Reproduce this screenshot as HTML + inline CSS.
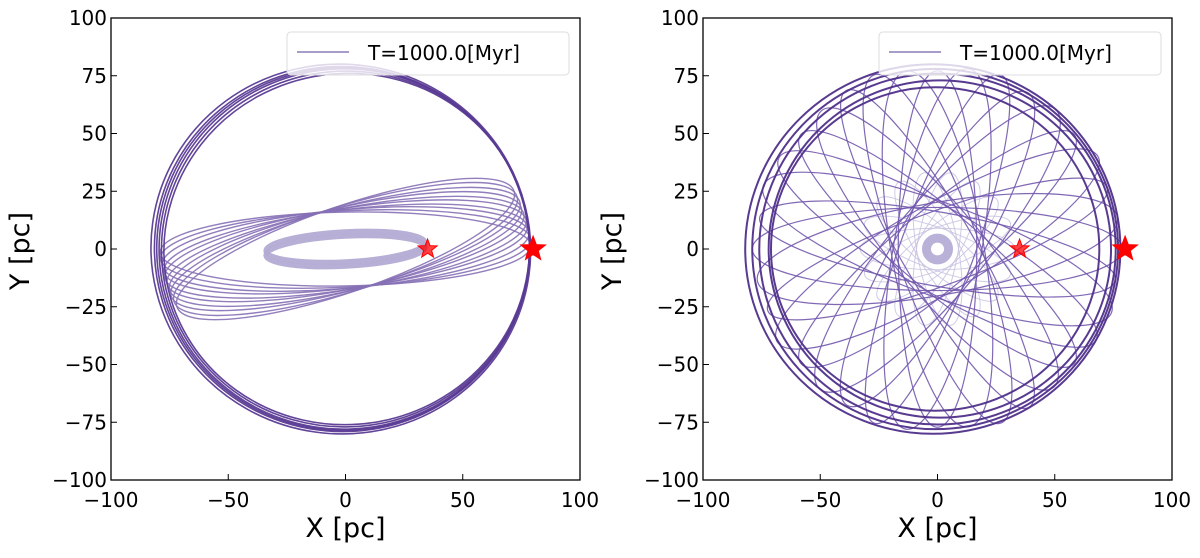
<!DOCTYPE html>
<html><head><meta charset="utf-8"><style>
body{margin:0;background:#fff;width:1200px;height:553px;overflow:hidden}
svg text{font-family:"DejaVu Sans","Liberation Sans",sans-serif;fill:#000}
</style></head><body>
<svg id="fig" width="1200" height="553" xmlns="http://www.w3.org/2000/svg"></svg>
<script>
const ticks=[-100,-50,0,50,100];
const tickLabels=["\u2212100","\u221250","0","50","100"];
const yTicks=[-100,-75,-50,-25,0,25,50,75,100];
const yTickLabels=["\u2212100","\u221275","\u221250","\u221225","0","25","50","75","100"];
// left panel
const leftOuterRx=[81,80,79.5,79,78.5,78];
const leftOuterRy=[80,79,78.5,78,77,76];
const leftOuterCx=[-2,-1.5,-1,-0.5,0,0.5];
const leftOuterAng=[-8,-5,-2,2,5,8];
const leftTiltAngles=[1,3,5,7,9,11,13,15,17,19];
const leftTiltRx=[79,79,78.5,78,78,77.5,77,77,76.5,76];
const leftTiltRy=[16,16.5,17,17,17.5,17.5,18,18,18.5,18.5];
const leftInner={rx:34,ry:6.5};
// right panel
const rightOuterR=[80,78,76,73,70];
const rightOuterCx=[-2,-1,0,1,-1];
const rosetteAngles=[0,10,20,30,40,50,60,70,80,90,100,110,120,130,140,150,160,170];
const rosetteRx=[79,78,77,79,76,78,77,79,78,76,77,79,78,77,76,78,79,77];
const rosetteRy=[18,20,16,19,17,20,18,16,19,17,20,18,16,19,17,18,20,16];
const innerRosetteAngles=[0,20,40,60,80,100,120,140,160];
const stars=[{x:35,y:0,s:10,type:"small"},{x:80,y:0,s:13,type:"big"}];

const NS="http://www.w3.org/2000/svg";
const svg=document.getElementById('fig');
function mk(tag,attrs,parent){const e=document.createElementNS(NS,tag);for(const k in attrs)e.setAttribute(k,attrs[k]);(parent||svg).appendChild(e);return e;}
const Y0=18,Y1=480;
function panel(x0,x1,name){
  const g=mk('g',{});
  
  
  const sx=v=>x0+(v+100)/200*(x1-x0);
  const sy=v=>Y0+(100-v)/200*(Y1-Y0);
  const kx=(x1-x0)/200, ky=(Y1-Y0)/200;
  const clipId='clip'+name;
  const cp=mk('clipPath',{id:clipId},g);mk('rect',{x:x0,y:Y0,width:x1-x0,height:Y1-Y0},cp);
  const plot=mk('g',{'clip-path':'url(#'+clipId+')'},g);
  
  
  return {g,plot,sx,sy,kx,ky,x0,x1};
}
function ellipse(P,cx,cy,rx,ry,ang,stroke,w,op,name){
  const e=mk('ellipse',{cx:P.sx(cx),cy:P.sy(cy),rx:rx*P.kx,ry:ry*P.ky,transform:`rotate(${-ang} ${P.sx(cx)} ${P.sy(cy)})`,fill:'none',stroke:stroke,'stroke-width':w,'stroke-opacity':op},P.plot);
  
  
}
function star(P,s){
  const cx=P.sx(s.x),cy=P.sy(s.y);let pts=[];
  for(let i=0;i<10;i++){const r=i%2?s.s*0.42:s.s;const a=-Math.PI/2+i*Math.PI/5;pts.push((cx+r*Math.cos(a)).toFixed(1)+','+(cy+r*Math.sin(a)).toFixed(1));}
  const p=mk('polygon',{points:pts.join(' '),fill:s.type==='big'?'#ff0000':'rgba(255,0,0,0.75)',stroke:'#ff0000','stroke-width':1},P.g);
  
  
}
function axes(P){
  const g=P.g;
  const fr=mk('rect',{x:P.x0,y:Y0,width:P.x1-P.x0,height:Y1-Y0,fill:'none',stroke:'#000','stroke-width':1.3},g);
  
  
  ticks.forEach((t,i)=>{const x=P.sx(t);mk('line',{x1:x,x2:x,y1:Y1,y2:Y1-6,stroke:'#000','stroke-width':1},g);
    const tx=mk('text',{x:x,y:Y1+27,'font-size':20,'text-anchor':'middle'},g);tx.textContent=tickLabels[i];
    
    });
  yTicks.forEach((t,i)=>{const y=P.sy(t);mk('line',{x1:P.x0,x2:P.x0+6,y1:y,y2:y,stroke:'#000','stroke-width':1},g);
    const tx=mk('text',{x:P.x0-4,y:y+7,'font-size':20,'text-anchor':'end'},g);tx.textContent=yTickLabels[i];
    
    });
  const xt=mk('text',{x:(P.x0+P.x1)/2,y:537,'font-size':27,'text-anchor':'middle'},g);xt.textContent='X [pc]';
  
  
  const yx=P.x0-82,yy=(Y0+Y1)/2+2;
  const yt=mk('text',{x:yx,y:yy,'font-size':27,'text-anchor':'middle',transform:`rotate(-90 ${yx} ${yy})`},g);yt.textContent='Y [pc]';
  
  
  const lg=mk('g',{},g);
  
  
  const lx=P.x1-293;
  mk('rect',{x:lx,y:32,width:282,height:43,rx:4,fill:'rgba(255,255,255,0.8)',stroke:'#ddd','stroke-width':1},lg);
  mk('line',{x1:lx+10,x2:lx+62,y1:52,y2:52,stroke:'#a89cc9','stroke-width':2},lg);
  const lt=mk('text',{x:lx+81,y:60,'font-size':20},lg);lt.textContent='T=1000.0[Myr]';
  
  
}
// Left
const L=panel(111,580,'left-panel');
ellipse(L,0,-1,leftInner.rx,leftInner.ry,3,'#b3abd3',5,0.95,'inner-orbit-band');
ellipse(L,0,1,leftInner.rx,leftInner.ry,3,'#b3abd3',5,0.95,'inner-orbit-band');
leftTiltAngles.forEach((a,i)=>ellipse(L,0,0,leftTiltRx[i],leftTiltRy[i],a,'#8670b5',1.4,0.9,'tilted-orbit'));
leftOuterRx.forEach((r,i)=>ellipse(L,leftOuterCx[i],0,r,leftOuterRy[i],leftOuterAng[i],'#5a3a93',1.6,0.95,'outer-orbit'));
stars.forEach(s=>star(L,s));
axes(L);
// Right
const R=panel(703,1172,'right-panel');
innerRosetteAngles.forEach(a=>ellipse(R,0,0,33,9,a,'#c4bedf',1,0.8,'inner-rosette-orbit'));
ellipse(R,0,0,4.7,4.7,0,'#b9b1d8',9,1,'central-ring');
rosetteAngles.forEach((a,i)=>ellipse(R,0,0,rosetteRx[i],rosetteRy[i],a,'#7258ad',1.2,0.9,'rosette-orbit'));
rightOuterR.forEach((r,i)=>ellipse(R,rightOuterCx[i],0,r,r,0,'#4f2f8a',2,0.95,'outer-orbit'));
stars.forEach(s=>star(R,s));
axes(R);
</script>
</body></html>
